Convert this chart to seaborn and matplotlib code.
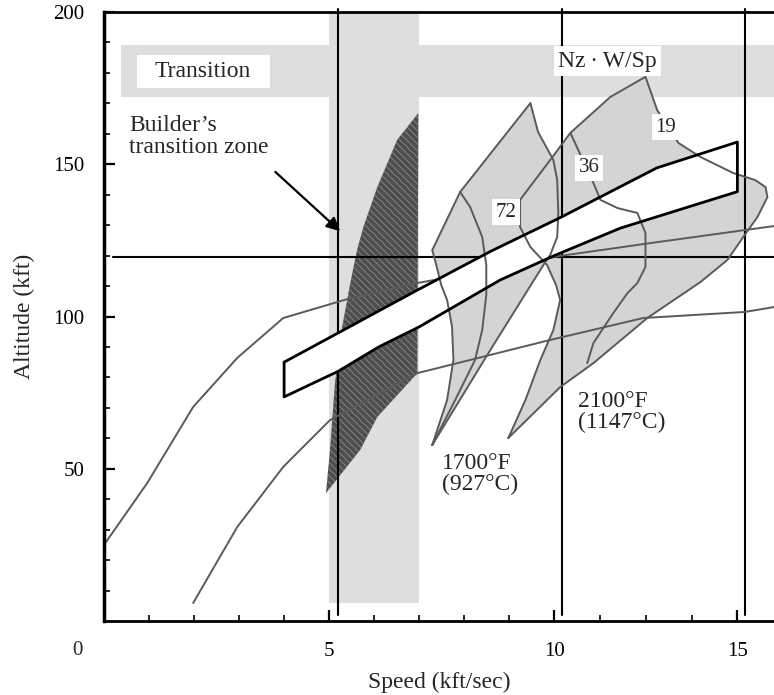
import numpy as np
import matplotlib
matplotlib.use("Agg")
import matplotlib.pyplot as plt
from matplotlib.patches import Polygon, Rectangle
import seaborn as sns

# ---------------- data (speed in kft/sec, altitude in kft) ----------------
# reference trajectories
traj_upper_speed = [0.0, 0.96, 1.98, 2.96, 3.98, 5.4, 6.96, 8.8, 10.16, 12.62, 16.0]
traj_upper_alt = [25.0, 45.3, 70.3, 86.4, 99.5, 105.7, 111.0, 115.9, 119.9, 124.1, 129.7]
traj_lower_speed = [1.98, 2.96, 3.98, 5.02, 6.96, 9.91, 12.43, 15.21, 16.0]
traj_lower_alt = [5.9, 30.9, 50.6, 66.0, 81.4, 92.3, 99.5, 101.5, 103.1]

# ascent corridor (white band)
corridor_top_speed = [4.0, 5.25, 7.0, 8.6, 10.2, 12.8, 15.0]
corridor_top_alt = [85.0, 95.0, 109.0, 121.5, 132.7, 148.8, 157.3]
corridor_bot_speed = [15.0, 11.8, 10.0, 8.8, 7.0, 6.1, 5.2, 4.0]
corridor_bot_alt = [141.0, 129.0, 120.0, 112.0, 96.6, 90.0, 82.0, 73.6]

# builder's transition zone
builder_speed = [6.98, 6.51, 6.07, 5.76, 5.62, 5.47, 5.29, 5.13, 5.02, 4.93, 5.69, 6.07, 6.96]
builder_alt = [166.8, 158.0, 142.5, 129.4, 121.8, 111.0, 96.6, 78.2, 56.2, 42.0, 56.2, 67.0, 81.4]

# 1700 F temperature-limited region
t1700_speed = [7.29, 7.62, 7.76, 7.73, 7.62, 7.49, 7.38, 7.29, 7.91, 9.47, 9.64, 9.98,
               10.08, 10.11, 10.08, 9.91, 9.8, 8.58]
t1700_alt = [57.8, 72.6, 85.7, 96.6, 105.4, 110.3, 116.9, 121.8, 140.9, 170.1, 160.6, 151.4,
             144.8, 134.0, 126.1, 120.2, 117.9, 89.0]
t1700_inner_speed = [7.91, 8.13, 8.4, 8.49, 8.49, 8.4, 8.24, 7.8, 7.29]
t1700_inner_alt = [140.9, 136.0, 126.1, 116.9, 107.1, 95.6, 85.7, 72.6, 57.8]

# 2100 F temperature-limited region
t2100_speed = [8.98, 9.36, 9.69, 9.98, 10.16, 10.05, 9.84, 9.47, 9.24, 9.24, 9.91, 10.44,
               11.53, 12.49, 12.81, 13.39, 13.99, 14.89, 15.49, 15.77, 15.82, 15.55, 15.16,
               14.73, 13.99, 12.54, 11.07, 10.16]
t2100_alt = [60.1, 72.6, 85.7, 95.6, 105.4, 110.3, 116.9, 122.8, 129.4, 138.3, 151.4, 160.3,
             172.1, 178.7, 167.8, 157.0, 152.4, 147.1, 144.8, 142.5, 139.2, 132.7, 126.1,
             118.6, 111.3, 99.5, 84.7, 76.8]

# Nz*W/Sp = 36 contour
nz36_speed = [10.44, 11.07, 11.26, 11.73, 12.27, 12.49, 12.49, 12.27, 12.0, 11.61, 11.07, 10.9]
nz36_alt = [160.3, 143.8, 138.3, 135.6, 134.0, 127.4, 116.3, 111.0, 107.7, 101.1, 91.3, 84.7]

# contour labels
nz_labels = ["72", "36", "19"]
nz_label_speed = [8.93, 10.96, 13.05]
nz_label_alt = [134.3, 148.8, 162.2]

# reference grid lines
grid_speeds = [5.2, 10.2, 15.2]
grid_alt = 119.5

x_major = [5, 10, 15]
x_major_labels = ["5", "10", "15"]
x_minor = [1, 2, 3, 4, 6, 7, 8, 9, 11.25, 12.5, 13.75]
y_major = [50, 100, 150, 200]
y_minor = [v for v in range(10, 200, 10) if v % 50]

# ---------------- styling ----------------
sns.set_theme(style="white")
plt.rcParams["font.family"] = ["Liberation Serif", "DejaVu Serif"]
plt.rcParams["hatch.linewidth"] = 0.6

BAND = "#dedede"
FILL = "#d4d4d4"
CURVE = "#5a5a5a"

fig = plt.figure(figsize=(7.74, 6.95), dpi=100)
ax = fig.add_axes([104 / 774, 74 / 695, 1 - 104 / 774, 609 / 695])

# speed axis is compressed above 10 kft/sec
K = 0.8133


def fwd(x):
    x = np.asarray(x, dtype=float)
    return np.where(x <= 10, x, 10 + (x - 10) * K)


def inv(x):
    x = np.asarray(x, dtype=float)
    return np.where(x <= 10, x, 10 + (x - 10) / K)


ax.set_xscale("function", functions=(fwd, inv))
ax.set_xlim(0, 16)
ax.set_ylim(0, 200)

# transition cross-bands
ax.add_patch(Rectangle((5.0, 6), 2.0, 194, facecolor=BAND, edgecolor="none", zorder=0.5))
ax.add_patch(Rectangle((0.38, 172), 15.62, 17, facecolor=BAND, edgecolor="none", zorder=0.5))
ax.add_patch(Rectangle((0.73, 175), 2.96, 11, facecolor="white", edgecolor="none", zorder=0.6))
ax.text(2.2, 180.5, "Transition", fontsize=17, ha="center", va="center", zorder=0.7)

# temperature-limited regions
ax.fill(t1700_speed, t1700_alt, color=FILL, lw=0, zorder=1)
ax.fill(t2100_speed, t2100_alt, color=FILL, lw=0, zorder=1)

# builder's transition zone (hatched)
ax.add_patch(Polygon(np.column_stack([builder_speed, builder_alt]), closed=True,
                     facecolor="#4d4d4d", edgecolor="#8c8c8c", hatch="\\\\\\\\\\",
                     lw=0, zorder=1.5))

# reference grid lines
for s in grid_speeds:
    ax.plot([s, s], [2, 201], color="black", lw=1.5, zorder=1.7, clip_on=False)
ax.plot([0.2, 16], [grid_alt, grid_alt], color="black", lw=1.5, zorder=1.7)

# trajectories
sns.lineplot(x=traj_upper_speed, y=traj_upper_alt, sort=False, estimator=None,
             color=CURVE, lw=1.4, ax=ax, zorder=1.8)
sns.lineplot(x=traj_lower_speed, y=traj_lower_alt, sort=False, estimator=None,
             color=CURVE, lw=1.4, ax=ax, zorder=1.8)

# corridor band
cor_x = corridor_top_speed + corridor_bot_speed
cor_y = corridor_top_alt + corridor_bot_alt
ax.fill(cor_x, cor_y, color="white", lw=0, zorder=2)

# region outlines
for xs, ys in [(t1700_speed, t1700_alt), (t2100_speed, t2100_alt)]:
    ax.plot(xs + xs[:1], ys + ys[:1], color=CURVE, lw=1.4, zorder=3)
ax.plot(t1700_inner_speed, t1700_inner_alt, color=CURVE, lw=1.4, zorder=3)
ax.plot(nz36_speed, nz36_alt, color=CURVE, lw=1.4, zorder=3)

# corridor outline
ax.plot(cor_x + cor_x[:1], cor_y + cor_y[:1], color="black", lw=2.0, zorder=3.5)

# labels
for lab, sx, sy in zip(nz_labels, nz_label_speed, nz_label_alt):
    ax.text(sx, sy, lab, fontsize=15, ha="center", va="center", zorder=5,
            bbox=dict(facecolor="white", edgecolor="none", pad=2.5))
ax.text(11.45, 183.9, "Nz\u2009\u00b7\u2009W/Sp", fontsize=17, ha="center", va="center", zorder=5,
        bbox=dict(facecolor="white", edgecolor="none", pad=3))
ax.text(0.56, 159.1, "Builder\u2019s\ntransition zone", fontsize=17, ha="left", va="center",
        linespacing=1.05, zorder=5)
ax.annotate("", xy=(5.29, 127.4), xytext=(3.76, 148.1),
            arrowprops=dict(arrowstyle="-|>", color="black", lw=1.6, mutation_scale=20),
            zorder=5)
ax.text(7.51, 48.4, "1700\u00b0F\n(927\u00b0C)", fontsize=17, ha="left", va="center",
        linespacing=1.0, zorder=5)
ax.text(10.66, 68.5, "2100\u00b0F\n(1147\u00b0C)", fontsize=17, ha="left", va="center",
        linespacing=1.0, zorder=5)

# axes, ticks
ax.spines["right"].set_visible(False)
for side in ["left", "bottom", "top"]:
    ax.spines[side].set_color("black")
ax.spines["left"].set_linewidth(2.5)
ax.spines["bottom"].set_linewidth(2.0)
ax.spines["top"].set_linewidth(2.0)

ax.set_xticks(x_major)
ax.set_xticklabels(x_major_labels)
ax.set_xticks(x_minor, minor=True)
ax.set_yticks(y_major)
ax.set_yticks(y_minor, minor=True)
ax.tick_params(axis="both", which="major", direction="in", length=8, width=1.6,
               labelsize=15, colors="black")
ax.tick_params(axis="both", which="minor", direction="in", length=4, width=1.4)
ax.tick_params(axis="x", which="major", pad=15)
ax.tick_params(axis="y", which="major", pad=14)
ax.tick_params(axis="both", which="both", left=True, bottom=True, top=False, right=False)

# shared origin label, offset below-left of the corner
ax.annotate("0", xy=(0, 0), xytext=(-19, -21), textcoords="offset points",
            fontsize=15, ha="center", va="center", annotation_clip=False)

ax.set_xlabel("Speed (kft/sec)", fontsize=17, labelpad=8)
ax.set_ylabel("Altitude (kft)", fontsize=17, labelpad=13)

fig.savefig("out.png", dpi=100)
